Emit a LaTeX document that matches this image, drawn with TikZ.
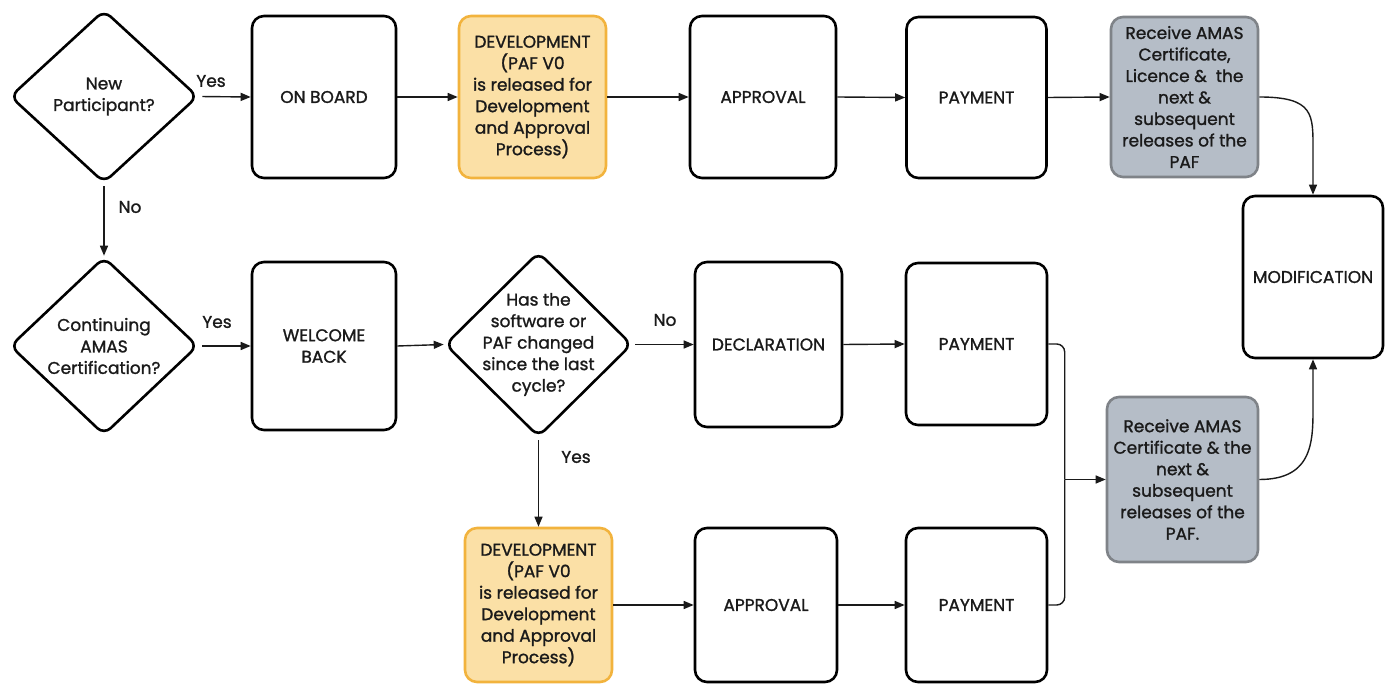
\documentclass[tikz,border=0pt]{standalone}
\usepackage{fontspec}
\setmainfont{Poppins}
\newfontfamily\diagfont{Poppins}[FakeBold=1.3]
\usetikzlibrary{shapes.geometric,arrows.meta,calc}
\definecolor{devfill}{HTML}{FBE0A6}
\definecolor{devdraw}{HTML}{F2B33D}
\definecolor{greyfill}{HTML}{B5BDC7}
\definecolor{greydraw}{HTML}{7F8388}
\definecolor{ink}{HTML}{1A1A1A}
\begin{document}
\begin{tikzpicture}[x=1pt,y=-1pt,
  every node/.style={font=\diagfont\fontsize{17}{21.5}\selectfont, text=ink},
  box/.style={draw=black, line width=2.6pt, rounded corners=12pt, inner sep=0pt, align=center},
  devbox/.style={box, draw=devdraw, fill=devfill},
  greybox/.style={box, draw=greydraw, fill=greyfill},
  dia/.style={diamond, draw=black, line width=2.6pt, rounded corners=9pt, inner sep=0pt},
  txt/.style={align=center, inner sep=0pt},
  lbl/.style={inner sep=0pt},
  arr/.style={-{Triangle[length=10pt,width=8pt]}, line width=1.4pt, draw=ink},
  link/.style={line width=1.4pt, draw=ink}
]
\useasboundingbox (0,0) rectangle (1392,684);

% ---------- top row ----------
\node[dia, minimum width=188, minimum height=173] (d1) at (104,96.5) {};
\node[txt] (d1t) at (d1) {New\\Participant?};
\node[box, minimum width=144, minimum height=162] (onboard) at (324,97) {ON BOARD};
\node[devbox, minimum width=147, minimum height=162] (dev1) at (532.5,97)
  {DEVELOPMENT\\(PAF V0\\is released for\\Development\\and Approval\\Process)};
\node[box, minimum width=146, minimum height=162] (appr1) at (763,97) {APPROVAL};
\node[box, minimum width=140, minimum height=161] (pay1) at (976.5,97.5) {PAYMENT};
\node[greybox, minimum width=147, minimum height=160] (grey1) at (1184.5,97)
  {Receive AMAS\\Certificate,\\Licence \&\ \ the\\next \&\\subsequent\\releases of the\\PAF};
\node[box, minimum width=140, minimum height=162] (mod) at (1313,277) {MODIFICATION};

% ---------- middle row ----------
\node[dia, minimum width=188, minimum height=178] (d2) at (104,346) {};
\node[txt] (d2t) at (d2) {Continuing\\AMAS\\Certification?};
\node[box, minimum width=144, minimum height=168] (welcome) at (324,346) {WELCOME\\BACK};
\node[dia, minimum width=187, minimum height=185] (d3) at (538.5,344.5) {};
\node[txt] (d3t) at (d3) {Has the\\software or\\PAF changed\\since the last\\cycle?};
\node[box, minimum width=147, minimum height=165] (decl) at (768.5,344.5) {DECLARATION};
\node[box, minimum width=141, minimum height=162] (pay2) at (976.5,344) {PAYMENT};
\node[greybox, minimum width=151, minimum height=165] (grey2) at (1182.5,479.5)
  {Receive AMAS\\Certificate \& the\\next \&\\subsequent\\releases of the\\PAF.};

% ---------- bottom row ----------
\node[devbox, minimum width=147, minimum height=154] (dev2) at (538.5,605)
  {DEVELOPMENT\\(PAF V0\\is released for\\Development\\and Approval\\Process)};
\node[box, minimum width=142, minimum height=154] (appr2) at (766,605) {APPROVAL};
\node[box, minimum width=141, minimum height=154] (pay3) at (976.5,605) {PAYMENT};

% ---------- labels ----------
\node[lbl] (yes1) at (211,81) {Yes};
\node[lbl] (no1) at (130,207) {No};
\node[lbl] (yes2) at (217,322) {Yes};
\node[lbl] (no2) at (665,320) {No};
\node[lbl] (yes3) at (576,457) {Yes};

% ---------- connectors ----------
\draw[arr, shorten <=3pt] (d1.east) -- (onboard.west);
\draw[arr] (onboard.east) -- (dev1.west);
\draw[arr] (dev1.east) -- (appr1.west);
\draw[arr] (appr1.east) -- (pay1.west);
\draw[arr] (pay1.east) -- (grey1.west);
\draw[arr] (grey1.east) .. controls ($(grey1.east)+(55,0)$) and ($(mod.north)+(0,-80)$) .. ($(mod.north)+(0,-45)$) -- (mod.north);

\draw[arr, shorten <=2pt] (d1.south) -- (d2.north);
\draw[arr, shorten <=3pt] (d2.east) -- (welcome.west);
\draw[arr] (welcome.east) -- (d3.west);
\draw[arr, shorten <=2pt] (d3.east) -- (decl.west);
\draw[arr] (decl.east) -- (pay2.west);
\draw[arr, shorten <=2pt] (d3.south) -- (dev2.north);
\draw[arr] (dev2.east) -- (appr2.west);
\draw[arr] (appr2.east) -- (pay3.west);

\coordinate (jn) at ($(grey2.west)+(-41,0)$);
\draw[link, rounded corners=8pt] (pay2.east) -| (jn);
\draw[link, rounded corners=8pt] (pay3.east) -| (jn);
\draw[arr] ($(jn)+(-0.1,0)$) -- (grey2.west);
\draw[arr] (grey2.east) .. controls ($(grey2.east)+(55,0)$) and ($(mod.south)+(0,80)$) .. ($(mod.south)+(0,45)$) -- (mod.south);
\end{tikzpicture}
\end{document}
